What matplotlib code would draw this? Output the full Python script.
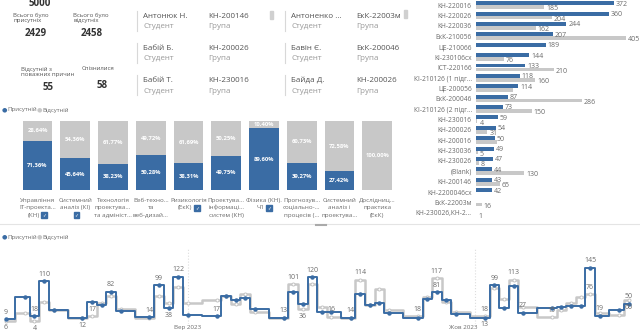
import numpy as np
import matplotlib
matplotlib.use("Agg")
from matplotlib import pyplot as plt
from matplotlib.transforms import ScaledTranslation

plt.rcParams['font.family'] = ['Open Sans', 'DejaVu Sans']

BLUE = '#3a6ca4'
GREY = '#c8c8c8'
TXT = '#6b6b6b'

# ---- data ----
kpi_present = 2429
kpi_absent = 2458
kpi_excused = 55
kpi_late = 58

students = [("Антонюк Н.", "КН-200146", "Антоненко ...", "ЕкК-22003м"),
            ("Бабій Б.", "КН-200026", "Бавін Є.", "ЕкК-200046"),
            ("Бабій Т.", "КН-230016", "Байда Д.", "КН-200026")]

groups = ["КН-220016", "КН-220026", "КН-220036", "ЕкК-210056", "ЦЕ-210066",
          "КІ-230106сх", "ІСТ-220166", "КІ-210126 (1 підг...", "ЦЕ-200056",
          "ЕкК-200046", "КІ-210126 (2 підг...", "КН-230016", "КН-200026",
          "КН-200016", "КН-230036", "КН-230026", "(Blank)", "КН-200146",
          "КН-2200046сх", "ЕкК-22003м", "КН-230026,КН-2..."]
grp_present = [372, 360, 244, 207, 189, 144, 133, 118, 114, 87, 73, 59, 54,
               50, 49, 47, 44, 43, 42, 0, 0]
grp_absent = [185, 204, 162, 405, 0, 76, 210, 160, 100, 286, 150, 4, 31,
              56, 5, 8, 130, 65, 0, 16, 1]
grp_absent_shown = [True] * 21
grp_absent_shown[8] = False
grp_absent_shown[13] = False

subjects = ["Управління\nІТ-проекта...\n(КН)", "Системний\nаналіз (КІ)",
            "Технологія\nпроектува...\nта адмініст...", "Веб-техно...\nта\nвеб-дизай...",
            "Ризикологія\n(ЕкК)", "Проектува...\nінформаці...\nсистем (КН)",
            "Фізика (КН).\nЧ1", "Прогнозув...\nсоціально-...\nпроцесів (...",
            "Системний\nаналіз і\nпроектува...", "Дослідниц...\nпрактика\n(ЕкК)"]
subj_present = [71.36, 45.64, 38.23, 50.28, 38.31, 49.75, 89.60, 39.27, 27.42, 0]
subj_absent = [28.64, 54.36, 61.77, 49.72, 61.69, 50.25, 10.40, 60.73, 72.58, 100.00]
subj_checked = [0, 1, 4, 6]

# days counted from 1 Sep 2023
days = [-19, -17, -16, -15, -14, -11, -10, -9, -8, -7, -4, -3, -2, -1, 0, 3, 4, 5,
        6, 7, 10, 11, 12, 13, 14, 15, 17, 18, 19, 20, 21, 24, 25, 26, 27, 28, 31,
        32, 33, 34, 35, 38, 39, 40, 41, 42, 43, 45, 46]
day_present = [9, 68, 18, 110, 35, 12, 55, 46, 82, 31, 15, 99, 38, 122, 20, 17, 72,
               59, 65, 36, 13, 81, 49, 120, 29, 29, 13, 77, 46, 53, 26, 13, 62, 81,
               59, 23, 13, 99, 40, 98, 27, 38, 41, 44, 44, 145, 19, 33, 50]
day_absent = [6, 27, 4, 55, 33, 12, 17, 52, 72, 37, 14, 72, 52, 94, 51, 59, 70,
              49, 77, 29, 13, 101, 36, 102, 42, 16, 14, 114, 47, 88, 33, 18, 68, 117,
              55, 29, 18, 93, 64, 113, 41, 15, 33, 51, 68, 76, 27, 20, 60]
# (point index, series, above/below)
day_labels = [(0, 'p', 1), (0, 'a', -1), (2, 'p', 1), (2, 'a', -1), (3, 'p', 1),
              (5, 'p', -1), (6, 'a', 1), (8, 'p', 1), (10, 'a', 1), (11, 'p', 1),
              (12, 'p', -1), (13, 'p', 1), (15, 'p', 1), (20, 'p', 1), (21, 'a', 1),
              (22, 'a', -1), (23, 'p', 1), (25, 'a', 1), (26, 'a', 1), (27, 'a', 1),
              (31, 'a', 1), (33, 'a', 1), (33, 'p', 1), (36, 'a', 1), (36, 'p', -1),
              (37, 'p', 1), (39, 'a', 1), (40, 'p', 1), (41, 'a', 1), (45, 'p', 1),
              (45, 'a', 1), (46, 'p', 1), (48, 'p', 1), (48, 'a', -1)]


def fx(px):
    return px / 640


def fy(py):
    return 1 - py / 332


fig = plt.figure(figsize=(6.4, 3.32), dpi=100)

# ---- KPI cards ----
fig.text(fx(40), fy(3), "5000", fontsize=7, fontweight='bold', color='#333', ha='center', va='center')
fig.text(fx(13), fy(18), "Всього було\nприсутніх", fontsize=4.3, color='#555', va='center', linespacing=1.1)
fig.text(fx(36), fy(33), str(kpi_present), fontsize=7, fontweight='bold', color='#333', ha='center', va='center')
fig.text(fx(73), fy(18), "Всього було\nвідсутніх", fontsize=4.3, color='#555', va='center', linespacing=1.1)
fig.text(fx(92), fy(34), str(kpi_absent), fontsize=7, fontweight='bold', color='#333', ha='center', va='center')
fig.text(fx(21), fy(72), "Відсутній з\nповажних причин", fontsize=4.3, color='#555', va='center', linespacing=1.1)
fig.text(fx(48), fy(88), str(kpi_excused), fontsize=7, fontweight='bold', color='#333', ha='center', va='center')
fig.text(fx(82), fy(69), "Спізнилися", fontsize=4.3, color='#555', va='center')
fig.text(fx(102), fy(85), str(kpi_late), fontsize=7, fontweight='bold', color='#333', ha='center', va='center')

# ---- student cards ----
for i, (n1, g1, n2, g2) in enumerate(students):
    y0 = 16 + 32 * i
    for xs, name, grp in [(137, n1, g1), (285, n2, g2)]:
        fig.add_artist(plt.Line2D([fx(xs), fx(xs)], [fy(y0 - 5), fy(y0 + 15)], color='#d8d8d8', lw=0.8))
        fig.text(fx(xs + 6), fy(y0), name, fontsize=5.8, color='#555', va='center')
        fig.text(fx(xs + 6), fy(y0 + 11), "Студент", fontsize=5.8, color='#999', va='center')
        fig.text(fx(xs + 71), fy(y0), grp, fontsize=5.8, color='#555', va='center')
        fig.text(fx(xs + 71), fy(y0 + 11), "Група", fontsize=5.8, color='#999', va='center')
fig.add_artist(plt.Rectangle((fx(269.5), fy(19)), 3 / 640, 8 / 332, color='#d0d0d0'))

# ---- groups bar chart ----
ax1 = fig.add_axes([fx(476), fy(218), 164 / 640, 218 / 332])
y = np.arange(len(groups))
ax1.barh(y - 0.19, grp_present, height=0.38, color=BLUE)
ax1.barh(y + 0.19, grp_absent, height=0.36, color=GREY)
for i in range(len(groups)):
    if grp_present[i]:
        ax1.text(grp_present[i] + 5, y[i] - 0.1, str(grp_present[i]), fontsize=5, color=TXT, va='center')
    if grp_absent[i] and grp_absent_shown[i]:
        ax1.text(grp_absent[i] + 5, y[i] + 0.35, str(grp_absent[i]), fontsize=5, color=TXT, va='center')
ax1.set_xlim(0, 443)
ax1.set_ylim(20.5, -0.5)
ax1.set_yticks(y)
ax1.set_yticklabels(groups, fontsize=4.8, color=TXT)
ax1.tick_params(axis='y', length=0, pad=3)
ax1.set_xticks([])
for s in ax1.spines.values():
    s.set_visible(False)
ax1.patch.set_alpha(0)
fig.add_artist(plt.Rectangle((fx(404), fy(18)), 3 / 640, 8 / 332, color='#d0d0d0'))

# ---- subjects stacked chart ----
fig.text(fx(2), fy(110), "●", fontsize=4.5, color=BLUE, va='center')
fig.text(fx(7), fy(110), "Присутній", fontsize=4.3, color=TXT, va='center')
fig.text(fx(37), fy(110), "●", fontsize=4.5, color=GREY, va='center')
fig.text(fx(42), fy(110), "Відсутній", fontsize=4.3, color=TXT, va='center')

ax2 = fig.add_axes([fx(18.7), fy(190), 377.3 / 640, 69.3 / 332])
x = np.arange(len(subjects))
ax2.bar(x, subj_present, 0.79, color=BLUE)
ax2.bar(x, subj_absent, 0.79, bottom=subj_present, color=GREY)
for i in range(len(subjects)):
    if subj_present[i]:
        ax2.text(x[i], subj_present[i] / 2, f"{subj_present[i]:.2f}%".replace('.', ','),
                 fontsize=4.2, fontweight='bold', color='white', ha='center', va='center')
    ax2.text(x[i], subj_present[i] + subj_absent[i] / 2, f"{subj_absent[i]:.2f}%".replace('.', ','),
             fontsize=4.2, fontweight='bold', color='white', ha='center', va='center')
ax2.set_xlim(-0.5, len(subjects) - 0.5)
ax2.set_ylim(0, 100)
ax2.axis('off')

# category labels, one line at a time; checked ones get a blue tick box after the last line
check_x = {0: 44, 4: 197, 6: 269}
for i, lab in enumerate(subjects):
    cx = 18.7 + (i + 0.5) * 37.73
    lines = lab.split('\n')
    for k, line in enumerate(lines):
        ly = 200 + 7.6 * k
        if i in check_x and k == len(lines) - 1:
            fig.text(fx(check_x[i] - 4.5), fy(ly), line, fontsize=4.5, color=TXT, ha='right', va='center')
            fig.text(fx(check_x[i]), fy(ly), "✓", fontsize=3.4, color='white', ha='center', va='center',
                     family=['DejaVu Sans'], bbox=dict(boxstyle='square,pad=0.12', fc=BLUE, ec=BLUE))
        else:
            fig.text(fx(cx), fy(ly), line, fontsize=4.5, color=TXT, ha='center', va='center')
    if i == 1:
        fig.text(fx(cx + 1), fy(200 + 7.6 * 2), "✓", fontsize=3.4, color='white', ha='center', va='center',
                 family=['DejaVu Sans'], bbox=dict(boxstyle='square,pad=0.12', fc=BLUE, ec=BLUE))

fig.add_artist(plt.Line2D([0, 1], [fy(224), fy(224)], color='#e4e4e4', lw=0.8))
fig.add_artist(plt.Line2D([fx(316), fx(326)], [fy(225), fy(225)], color='#aaaaaa', lw=1.5))

# ---- daily step chart ----
fig.text(fx(2), fy(237), "●", fontsize=4.5, color=BLUE, va='center')
fig.text(fx(7), fy(237), "Присутній", fontsize=4.3, color=TXT, va='center')
fig.text(fx(37), fy(237), "●", fontsize=4.5, color=GREY, va='center')
fig.text(fx(42), fy(237), "Відсутній", fontsize=4.3, color=TXT, va='center')

ax3 = fig.add_axes([0, fy(324), 1, 76 / 332])
ax3.step(days, day_absent, where='mid', color='#c8c8c8', lw=1.8)
ax3.plot(days, day_absent, 'o', ms=2.2, color='#c4c4c4', mfc='white', mew=0.7)
ax3.step(days, day_present, where='mid', color=BLUE, lw=1.4)
ax3.plot(days, day_present, 'o', ms=2.2, color=BLUE)
for idx, ser, side in day_labels:
    v = day_present[idx] if ser == 'p' else day_absent[idx]
    ax3.annotate(str(v), (days[idx], v), xytext=(0, 5 * side), textcoords='offset points',
                 fontsize=5, color=TXT, ha='center', va='center')
ax3.set_xlim(-19.6, 47.2)
ax3.set_ylim(-3, 197)
ax3.set_xticks([0, 30])
ax3.set_xticklabels(["Вер 2023", "Жов 2023"], fontsize=4.5, color=TXT)
ax3.tick_params(axis='x', length=0, pad=1)
# October label sits a little left of its gridline
oct_lab = ax3.get_xticklabels()[1]
oct_lab.set_transform(oct_lab.get_transform() + ScaledTranslation(-12 / 100, 0, fig.dpi_scale_trans))
ax3.set_yticks([])
ax3.grid(axis='x', linestyle=':', color='#dddddd', lw=0.8)
for s in ax3.spines.values():
    s.set_visible(False)
ax3.patch.set_alpha(0)

fig.savefig("out.png", dpi=100)
plt.close(fig)
